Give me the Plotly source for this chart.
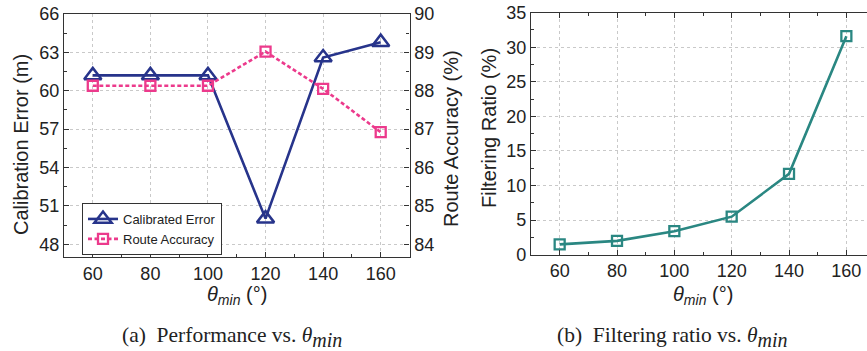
import plotly.graph_objects as go

theta = [60, 80, 100, 120, 140, 160]
calib_error = [61.2, 61.2, 61.2, 50.0, 62.6, 63.8]
route_acc = [88.13, 88.13, 88.13, 89.02, 88.05, 86.92]
filter_ratio = [1.5, 2.0, 3.4, 5.5, 11.7, 31.6]

W, H = 867, 351
BLUE = "#27348b"
PINK = "#ec3a8c"
TEAL = "#2a8782"
AX = "#333333"
GRID = "#c9c9c9"
FONT = "Liberation Sans, Arial, sans-serif"
SERIF = "Liberation Serif, DejaVu Serif, serif"

def px_x(p):
    return p / W

def px_y(p):
    return 1 - p / H

fig = go.Figure()
fig.add_trace(go.Scatter(
    x=theta, y=calib_error, name="Calibrated Error", xaxis="x", yaxis="y",
    mode="lines+markers", line=dict(color=BLUE, width=2.6),
    marker=dict(symbol="triangle-up-open", size=15, color=BLUE, line=dict(width=2.5, color=BLUE))))
fig.add_trace(go.Scatter(
    x=theta, y=route_acc, name="Route Accuracy", xaxis="x", yaxis="y2",
    mode="lines+markers", line=dict(color=PINK, width=2.6, dash="4px,2.5px"),
    marker=dict(symbol="square-open", size=10, color=PINK, line=dict(width=2.3, color=PINK))))
fig.add_trace(go.Scatter(
    x=theta, y=filter_ratio, name="Filtering Ratio", xaxis="x3", yaxis="y3",
    mode="lines+markers", line=dict(color=TEAL, width=2.6), showlegend=False,
    marker=dict(symbol="square-open", size=10, color=TEAL, line=dict(width=2.3, color=TEAL))))

common = dict(showline=True, linecolor=AX, linewidth=1.3, ticks="inside", ticklen=5,
              tickwidth=1.2, tickcolor=AX, tickfont=dict(family=FONT, size=18, color="#222"),
              zeroline=False, griddash="dot", gridcolor=GRID, gridwidth=1, automargin=False)

fig.update_layout(
    width=W, height=H, margin=dict(l=0, r=0, t=0, b=0, autoexpand=False),
    paper_bgcolor="white", plot_bgcolor="white",
    font=dict(family=FONT, color="#222"),
    xaxis=dict(domain=[px_x(64), px_x(409.5)], range=[50, 170], tickvals=theta,
               mirror=True, showgrid=True, anchor="y",
               minor=dict(dtick=10, tick0=50, ticks="inside", ticklen=3, tickcolor=AX, showgrid=False),
               **common),
    yaxis=dict(domain=[px_y(257), px_y(14)], range=[47, 66], tick0=48, dtick=3, anchor="x",
               showgrid=True,
               minor=dict(dtick=1.5, tick0=48, ticks="inside", ticklen=3, tickcolor=AX, showgrid=False),
               **common),
    yaxis2=dict(overlaying="y", side="right", anchor="x", range=[83.6667, 90], tick0=84, dtick=1,
                showgrid=False,
                minor=dict(dtick=0.5, tick0=84, ticks="inside", ticklen=3, tickcolor=AX, showgrid=False),
                **common),
    xaxis3=dict(domain=[px_x(531), 1.0], range=[50, 167.2], tickvals=theta, anchor="y3",
                mirror="ticks", showgrid=True,
                minor=dict(dtick=10, tick0=50, ticks="inside", ticklen=3, tickcolor=AX, showgrid=False),
                **common),
    yaxis3=dict(domain=[px_y(254.7), px_y(12.7)], range=[0, 35], tick0=0, dtick=5, anchor="x3",
                showgrid=True,
                minor=dict(dtick=2.5, tick0=0, ticks="inside", ticklen=3, tickcolor=AX, showgrid=False),
                **common),
    legend=dict(x=px_x(82), y=px_y(203), xanchor="left", yanchor="top",
                bgcolor="white", bordercolor=AX, borderwidth=1,
                font=dict(family=FONT, size=13, color="#222"),
                itemwidth=30, tracegroupgap=0),
)

title_font = dict(family=FONT, size=20, color="#222")
annots = [
    dict(text="Calibration Error (m)", x=px_x(21), y=px_y(145), textangle=-90),
    dict(text="Route Accuracy (%)", x=px_x(451), y=px_y(139), textangle=-90),
    dict(text="Filtering Ratio (%)", x=px_x(489), y=px_y(128), textangle=-90),
    dict(text="<i>θ</i><sub><i>min</i></sub> (°)", x=px_x(237), y=px_y(295)),
    dict(text="<i>θ</i><sub><i>min</i></sub> (°)", x=px_x(703), y=px_y(295)),
]
for a in annots:
    fig.add_annotation(xref="paper", yref="paper", showarrow=False, font=title_font,
                       xanchor="center", yanchor="middle", **a)

cap_font = dict(family=SERIF, size=21.5, color="#222")
sub_min = "<sub><i><span style=\"font-size:20px\">min</span></i></sub>"
for text, cx in [("(a)  Performance vs. <i>θ</i>" + sub_min, 232),
                 ("(b)  Filtering ratio vs. <i>θ</i>" + sub_min, 672)]:
    fig.add_annotation(xref="paper", yref="paper", showarrow=False, font=cap_font,
                       xanchor="center", yanchor="middle", x=px_x(cx), y=px_y(337), text=text)

fig.write_html("out.html", config={"displayModeBar": False},
               post_script="document.body.style.margin='0';")
